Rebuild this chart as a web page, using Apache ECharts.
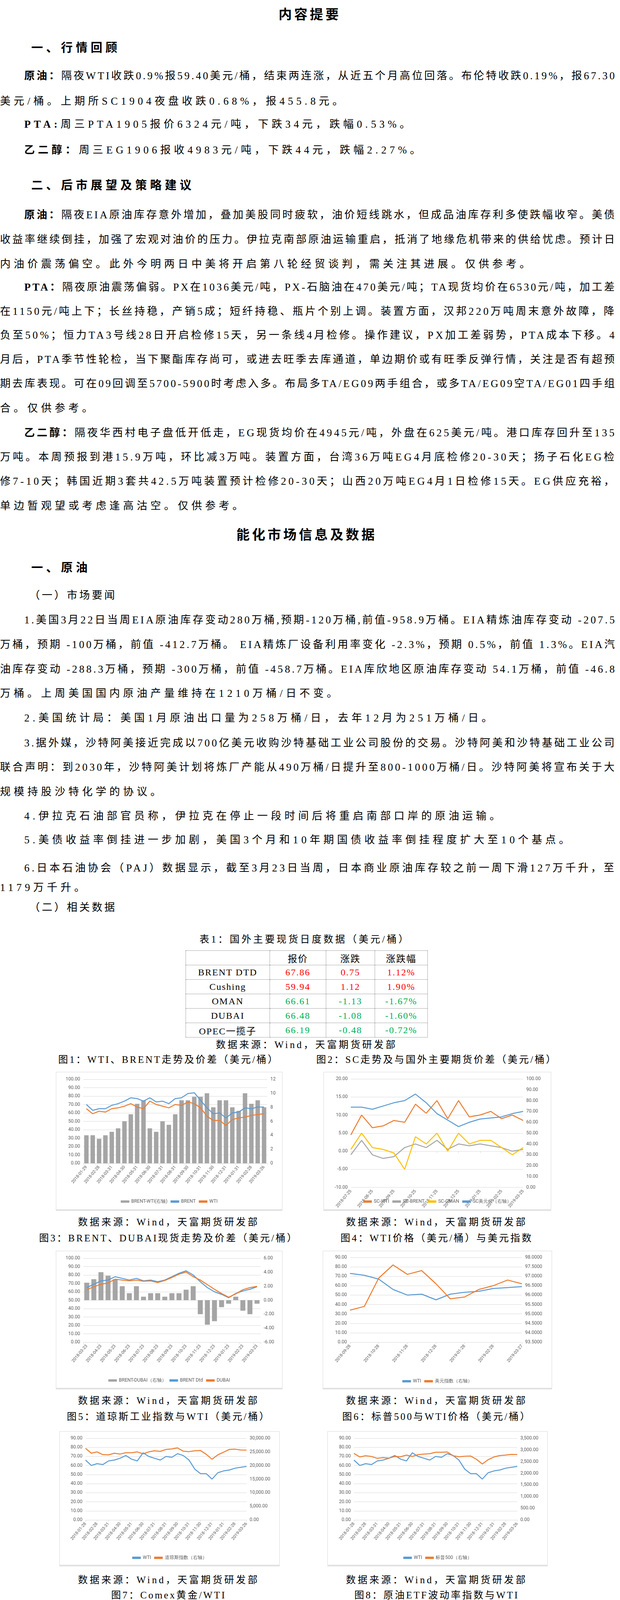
<!DOCTYPE html>
<html><head><meta charset="utf-8">
<script src="https://cdn.jsdelivr.net/npm/echarts@6/dist/echarts.min.js"></script>
<style>
body{margin:0;background:#fff;}
#page{position:relative;width:1587px;height:7857px;overflow:hidden;font-family:"Liberation Serif","Noto Sans CJK SC",serif;color:#000;}
.ln{position:absolute;white-space:nowrap;font-size:27px;line-height:36px;}
.h1{font-size:34px;font-weight:bold;}
.h2{font-size:30px;font-weight:bold;}
.cap{font-size:25px;}
.box{position:absolute;border:1px solid #D9D9D9;box-shadow:0 3px 0 #E3E3E3;background:#fff;}
table{border-collapse:collapse;position:absolute;font-size:24px;}
td{text-align:center;padding:0;white-space:nowrap;letter-spacing:2px;}
.t1 td{border:1px dotted #555;height:36px;}
.t2 td{border:1px solid #000;height:31px;}
</style></head><body><div id="page"></div>
<script>
// ---------- DATA ----------
var table1Head=['','报价','涨跌','涨跌幅'];
var table1Names=['BRENT DTD','Cushing','OMAN','DUBAI','OPEC一揽子'];
var table1Price=['67.86','59.94','66.61','66.48','66.19'];
var table1Chg=['0.75','1.12','-1.13','-1.08','-0.48'];
var table1Pct=['1.12%','1.90%','-1.67%','-1.60%','-0.72%'];
var table2Head=['品种','2019/3/26','2019/3/27','涨跌幅'];
var table2Names=['石脑油（美元）','PX（美元）','内盘PTA','内盘MEG','半光切片','华东水瓶片','POY150D/48F','1.4D直纺涤短'];
var table2D1=['566','1036','6600','5035','7750','8550','9015','8820'];
var table2D2=['566','1036','6530','4945','7750','8550','9015','8790'];
var table2Chg=['0','0','-70','-90','0','0','0','-30'];

var dates1=['2018-01-29','2018-02-13','2018-02-28','2018-03-15','2018-03-31','2018-04-15','2018-04-30','2018-05-15','2018-05-31','2018-06-15','2018-06-30','2018-07-15','2018-07-31','2018-08-15','2018-08-31','2018-09-15','2018-09-30','2018-10-15','2018-10-31','2018-11-15','2018-11-30','2018-12-15','2018-12-31','2019-01-15','2019-01-31','2019-02-15','2019-02-28','2019-03-14','2019-03-26'];
var brent1=[70,63,65,65,69,71,74,78,77,74,78,73,74,71,77,78,83,84,75,66,59,60,54,60,61,66,65,67,67];
var wti1=[65,59,62,61,65,66,68,71,67,65,74,70,68,66,70,69,73,71,66,56,51,51,45,52,54,55,57,58,59];
var spread1=[4,4,3.5,4,4.5,5,6,7,8.5,9,5,4.5,6,5.5,7,9,9,9.5,9.5,10,8,9,9,8,7.5,10,8.5,9,8];

var dates2=['2018-07-25','2018-08-10','2018-08-25','2018-09-10','2018-09-25','2018-10-10','2018-10-25','2018-11-10','2018-11-25','2018-12-10','2018-12-25','2019-01-10','2019-01-25','2019-02-10','2019-02-25','2019-03-10','2019-03-25'];
var scWti=[4.5,10,6.5,7,8.5,8,13,10.5,14,9,14,9.5,10,11,9,10,8.5];
var scBrent=[-1,3,-1,-2,-1.5,1,2,1,3,0.5,2,1.5,2,1.5,1,0,0.5];
var scOman=[0.5,5,1,0.5,-0.5,-5,4,2,5,0,5,2,3,3,1,-1,1];
var scUsd=[74,74,72,75,78,80,86,78,68,62,56,60,63,64,65,68,70];

var dates3=['2018-03-23','2018-04-08','2018-04-23','2018-05-08','2018-05-23','2018-06-08','2018-06-23','2018-07-08','2018-07-23','2018-08-08','2018-08-23','2018-09-08','2018-09-23','2018-10-08','2018-10-23','2018-11-08','2018-11-23','2018-12-08','2018-12-23','2019-01-08','2019-01-23','2019-02-08','2019-02-23','2019-03-08','2019-03-23'];
var brentDtd=[65,69,73,74,78,76,74,76,73,74,72,74,78,82,85,80,72,65,60,57,53,58,61,63,66];
var dubai=[62.5,66,69,70.5,75,74,73,74,72.5,73,71,73.5,77,81,83.5,78,74,68.5,63,58,53.5,57.5,62.5,65,66.5];
var spread3=[2.5,3,4,3.5,3,2,1,2,0.5,1,1,0.5,1,1,1.5,2,-2,-3.5,-3,-1,-0.5,0.5,-1.5,-2,-0.5];

var dates4=['2018-09-28','2018-10-14','2018-10-28','2018-11-14','2018-11-28','2018-12-14','2018-12-28','2019-01-14','2019-01-28','2019-02-14','2019-02-28','2019-03-14','2019-03-27'];
var wti4=[73,71,67,56,50,51,45,51,53,54,57,58,59];
var usdIdx=[95.2,95.4,96.9,97.6,97.1,97.3,96.6,95.8,95.9,96.3,96.5,96.8,96.6];

var dates5=['2018-01-28','2018-02-13','2018-02-28','2018-03-15','2018-03-31','2018-04-15','2018-04-30','2018-05-15','2018-05-31','2018-06-15','2018-06-30','2018-07-15','2018-07-31','2018-08-15','2018-08-31','2018-09-15','2018-09-30','2018-10-15','2018-10-31','2018-11-15','2018-11-30','2018-12-15','2018-12-31','2019-01-15','2019-01-31','2019-02-15','2019-02-28','2019-03-14','2019-03-26'];
var wti5=[66,60,62,61,65,66,68,71,67,65,74,70,68,66,70,69,73,71,66,56,51,51,45,52,54,55,57,58,59];
var dowJones=[26300,24500,25000,24000,23900,24500,24200,24700,24700,25000,24300,25000,25400,25200,25900,26100,26450,25250,25100,25400,25500,24100,22300,23900,24900,25900,26000,25700,25650];
var sp500=[2850,2700,2750,2720,2640,2670,2650,2720,2710,2780,2720,2800,2820,2840,2900,2900,2915,2750,2710,2730,2740,2600,2400,2580,2700,2760,2780,2810,2800];
var oilEtf=[22,30,26,25,26,27,28,26,28,27,29,27,29,25,27,26,26,28,35,65,45,60,52,38,35,31,30,27,26];

var dates7=['2018-03-27','2018-04-12','2018-04-27','2018-05-12','2018-05-27','2018-06-12','2018-06-27','2018-07-12','2018-07-27','2018-08-12','2018-08-27','2018-09-12','2018-09-27','2018-10-12','2018-10-27','2018-11-12','2018-11-27','2018-12-12','2018-12-27','2019-01-12','2019-01-27','2019-02-12','2019-02-27','2019-03-12','2019-03-27'];
var goldWti=[20.3,21.3,19.2,18.8,18,20,19.8,17.5,17.5,18,18,17.8,17.2,17.5,16.2,18,20.5,23.5,29.5,25.5,24.5,24.8,23.5,22.5,22.5];

// ---------- TEXT ----------
var page=document.getElementById('page');
function L(y,x,html,full,cls,ls){
  var d=document.createElement('div');d.className='ln '+(cls||'');d.innerHTML=html;
  d.style.left=x+'px';d.style.top=(y-18)+'px';page.appendChild(d);
  var n=d.textContent.length;
  if(full){var w=d.offsetWidth;var l=(1578-x-w)/n;d.style.letterSpacing=l+'px';}
  else d.style.letterSpacing=(ls==null?8:ls)+'px';
  return d;
}
function C(y,cx,html,cls,ls){
  var d=document.createElement('div');d.className='ln '+(cls||'');d.innerHTML=html;
  d.style.top=(y-18)+'px';d.style.letterSpacing=(ls==null?5:ls)+'px';page.appendChild(d);var w=d.offsetWidth;
  d.style.left=(cx-w/2)+'px';
}

C(38,793,'内容提要','h1',6);
L(122,80,'一、行情回顾',false,'h2',8);
L(194,62,'<b>原油：</b>隔夜WTI收跌0.9%报59.40美元/桶，结束两连涨，从近五个月高位回落。布伦特收跌0.19%，报67.30',true);
L(259,0,'美元/桶。上期所SC1904夜盘收跌0.68%，报455.8元。');
L(318,62,'<b>PTA:</b>周三PTA1905报价6324元/吨，下跌34元，跌幅0.53%。');
L(384,62,'<b>乙二醇：</b>周三EG1906报收4983元/吨，下跌44元，跌幅2.27%。');
L(474,80,'二、后市展望及策略建议',false,'h2',8);
var T=[
[550,62,'<b>原油：</b>隔夜EIA原油库存意外增加，叠加美股同时疲软，油价短线跳水，但成品油库存利多使跌幅收窄。美债',1],
[613,0,'收益率继续倒挂，加强了宏观对油价的压力。伊拉克南部原油运输重启，抵消了地缘危机带来的供给忧虑。预计日',1],
[676,0,'内油价震荡偏空。此外今明两日中美将开启第八轮经贸谈判，需关注其进展。仅供参考。',0],
[735,62,'<b>PTA：</b>隔夜原油震荡偏弱。PX在1036美元/吨，PX-石脑油在470美元/吨；TA现货均价在6530元/吨，加工差',1],
[797,0,'在1150元/吨上下；长丝持稳，产销5成；短纤持稳、瓶片个别上调。装置方面，汉邦220万吨周末意外故障，降',1],
[858,0,'负至50%；恒力TA3号线28日开启检修15天，另一条线4月检修。操作建议，PX加工差弱势，PTA成本下移。4',1],
[920,0,'月后，PTA季节性轮检，当下聚酯库存尚可，或进去旺季去库通道，单边期价或有旺季反弹行情，关注是否有超预',1],
[982,0,'期去库表现。可在09回调至5700-5900时考虑入多。布局多TA/EG09两手组合，或多TA/EG09空TA/EG01四手组',1],
[1045,0,'合。仅供参考。',0],
[1108,62,'<b>乙二醇：</b>隔夜华西村电子盘低开低走，EG现货均价在4945元/吨，外盘在625美元/吨。港口库存回升至135',1],
[1170,0,'万吨。本周预报到港15.9万吨，环比减3万吨。装置方面，台湾36万吨EG4月底检修20-30天；扬子石化EG检',1],
[1232,0,'修7-10天；韩国近期3套共42.5万吨装置预计检修20-30天；山西20万吨EG4月1日检修15天。EG供应充裕，',1],
[1295,0,'单边暂观望或考虑逢高沽空。仅供参考。',0],
[1587,62,'1.美国3月22日当周EIA原油库存变动280万桶,预期-120万桶,前值-958.9万桶。EIA精炼油库存变动 -207.5',1],
[1650,0,'万桶，预期 -100万桶，前值 -412.7万桶。 EIA精炼厂设备利用率变化 -2.3%，预期 0.5%，前值 1.3%。EIA汽',1],
[1713,0,'油库存变动 -288.3万桶，预期 -300万桶，前值 -458.7万桶。EIA库欣地区原油库存变动 54.1万桶，前值 -46.8',1],
[1775,0,'万桶。上周美国国内原油产量维持在1210万桶/日不变。',0],
[1838,62,'2.美国统计局：美国1月原油出口量为258万桶/日，去年12月为251万桶/日。',0],
[1902,62,'3.据外媒，沙特阿美接近完成以700亿美元收购沙特基础工业公司股份的交易。沙特阿美和沙特基础工业公司',1],
[1964,0,'联合声明：到2030年，沙特阿美计划将炼厂产能从490万桶/日提升至800-1000万桶/日。沙特阿美将宣布关于大',1],
[2027,0,'规模持股沙特化学的协议。',0],
[2089,62,'4.伊拉克石油部官员称，伊拉克在停止一段时间后将重启南部口岸的原油运输。',0],
[2150,62,'5.美债收益率倒挂进一步加剧，美国3个月和10年期国债收益率倒挂程度扩大至10个基点。',0],
[2222,62,'6.日本石油协会（PAJ）数据显示，截至3月23日当周，日本商业原油库存较之前一周下滑127万千升，至',1],
[2272,0,'1179万千升。',0],
[4688,62,'1.TI 5月原油期货收跌0.53美元，跌幅0.88%，报59.41美元/桶。布伦特5月原油期货收跌0.14美元，跌',1],
[4751,0,'幅0.21%，报67.83美元/桶。EIA公布的数据显示，截至3月22日当周美国商业原油库存增加280万桶至4.423',1],
[4812,0,'亿桶，汽油库存下降288.3万桶，精炼油库存下降207.5万桶。。',0],
[4875,58,'2.早盘PX波动不大，实货5/6月递盘贴水5，纸货4月递盘1027美元/吨，7月998-1015美元/吨CFR附近商',1],
[4937,0,'谈。下午PX市场波动不大，实货5/6月贴水略有扩大至6-8美元附近；纸货7月递盘1000美元/吨，9月递976',1],
[5000,0,'美元/吨。尾盘PX变化不大，5月递盘1037-1039美元/吨；6月递盘1033美元/吨。其他方面，中石化4月PX预',1],
[5063,0,'收款价出台在8100元/吨。4月ACP，报盘1140-1150美元/吨CFR。',0],
[5110,62,'3.现货市场',0],
[5168,62,'周三，PTA总体市场气氛总体一般，现货市场因临近月底税票问题，成交量明显萎缩。4月货源成交相对一般，',1],
[5230,0,'供应商和贸易商有出货，聚酯工厂和贸易商采购为主。3月货源成交在1905升水170-190附近，4月货源在1905',1],
[5290,0,'升水60-70附近成交，成交区间在6400-6425元/吨附近。',0],
[5397,62,'1.聚酯切片工厂报价继续维持，半光主流报7750-7850元/吨现款，略低在7700元/吨附近；有光主流报',0],
[5458,0,'7850-7900元/吨现款，实盘商谈。',0],
[5522,62,'2.江浙涤丝价格多稳，聚酯成本端回落，涤丝产品效益扩大，工厂库存压力不显，短期丝价个别调整。江浙涤',1],
[5584,0,'丝产销整体偏弱，至下午3点附近平均估算在5成左右。',0],
[5647,62,'3.瓶片方面，工厂报价多稳。近期瓶片工厂发货量增加，现货趋紧。日内聚酯瓶片工厂成交一般，工厂多挺价',1],
[5711,0,'为主。主流瓶片工厂商谈重心至8550-8600元/吨出厂附近。出口市场，瓶片工厂出口报价维持坚挺。华东主流商',1],
[5774,0,'谈区间至1120-1130美元/吨FOB上海港不等。',0],
[5838,62,'4.短纤方面，直纺涤短价格维稳，产销一般，聚酯原料近期走势胶着，库存水平良好。半光1.4D江苏地区商',1],
[5898,0,'谈多在8700-8850出厂或短送。',0],
[6040,62,'EG价格重心大幅下行，场内贸易商出货意向偏浓，午后乙二醇市场价格大幅下行，下周现货贴水幅度继续扩',1],
[6102,0,'大，尾盘少量聚酯工厂参与现货询盘。美金方面，MEG外盘重心大幅下行，场内报盘较为集中，供应商出货积极，',1],
[6164,0,'市场买盘意向薄弱，个别融资商参与询盘为主，尾盘商谈下探至610-615美元/吨附近。',0],
[6750,55,'本报告的信息均来源于公开资料，我公司对这些信息的准确性和完整性不作任何保证，也不保证所包含的信息和建议不会发生',1],
[6811,0,'任何变更。文中的观点、结论和建议仅供参考。天富期货可发出其它与本报告所载资料不一致及有不同结论的报告。本报告及该等',1],
[6872,0,'报告反映编写分析员的不同设想、见解及分析方法。报告所载资料、意见及推测仅反映分析员于发出此报告日期当日的独立判断。',1],
[6935,0,'客户不应视本报告为作出投资决策的惟一因素。本报告中所指的投资及服务可能不适合个别客户，不构成客户私人咨询建议。本公',1],
[6995,0,'司未确保本报告充分考虑到个别客户特殊的投资目标、财务状况或需要。本公司建议客户应考虑本报告的任何意见或建议是否符合',1],
[7057,0,'其特定状况，以及（若有必要）咨询独立投资顾问。在任何情况下，本报告中的信息或所表述的意见并不构成对任何人的投资建议。',1],
[7120,0,'在任何情况下，本公司不对任何人因使用本报告中的任何内容所引致的损失负任何责任。本报告的观点可能与资管团队的观点不同',1],
[7183,0,'或对立，对于基于本报告全面或部分做出的交易、结果，不论盈利或亏损，天富期货研究发展部不承担责任。本报告版权仅为天富',1],
[7245,0,'期货有限公司所有，未经书面许可，任何机构和个人不得以任何形式翻版、复制和发布。如引用、刊发，需注明出处天富期货研究',1],
[7308,0,'发展部，且不得对本报告进行有悖原意的引用、删节和修改。',0]];
T.forEach(function(t){L(t[0],t[1],t[2],!!t[3],'',t[0]>6700?0:8);});
C(1370,785,'能化市场信息及数据','h1',6);
L(1453,80,'一、原油',false,'h2',8);
L(1524,75,'（一）市场要闻',false,'',5);
L(2323,75,'（二）相关数据',false,'',5);
L(4573,80,'二、PTA',false,'h2',8);
L(4635,75,'（一）上游市场',false,'',5);
L(5342,75,'（二）下游市场',false,'',5);
L(5966,80,'三、乙二醇',false,'h2',8);
L(6238,80,'四、能化品种现货市场报价',false,'h2',8);
C(6697,816,'免责声明','h2',2);
C(2405,780,'表1：国外主要现货日度数据（美元/桶）','cap',5);
C(2675,785,'数据来源：Wind，天富期货研发部','cap',5);
var src='数据来源：Wind，天富期货研发部';
[[2713,'图1：WTI、BRENT走势及价差（美元/桶）','图2：SC走势及与国外主要期货价差（美元/桶）'],
 [3170,'图3：BRENT、DUBAI现货走势及价差（美元/桶）','图4：WTI价格（美元/桶）与美元指数'],
 [3627,'图5：道琼斯工业指数与WTI（美元/桶）','图6：标普500与WTI价格（美元/桶）'],
 [4084,'图7：Comex黄金/WTI','图8：原油ETF波动率指数与WTI']].forEach(function(r){C(r[0],432,r[1],'cap',4);C(r[0],1118,r[2],'cap',4);});
[3129,3586,4045,4510].forEach(function(y){C(y,432,src,'cap',5);C(y,1118,src,'cap',5);});

// ---------- TABLES ----------
var t1=document.createElement('table');t1.className='t1';t1.style.left='475px';t1.style.top='2433px';t1.style.width='620px';
var h='<tr>'+table1Head.map(function(c,i){return '<td style="width:'+[215,145,125,135][i]+'px">'+c+'</td>';}).join('')+'</tr>';
table1Names.forEach(function(n,i){var col=i<2?'#FF0000':'#00B050';
 h+='<tr><td>'+n+'</td><td style="color:'+col+'">'+table1Price[i]+'</td><td style="color:'+col+'">'+table1Chg[i]+'</td><td style="color:'+col+'">'+table1Pct[i]+'</td></tr>';});
t1.innerHTML=h;page.appendChild(t1);
var t2=document.createElement('table');t2.className='t2';t2.style.left='262px';t2.style.top='6287px';t2.style.width='1045px';
h='<tr><td colspan="4">现货市场</td></tr><tr>'+table2Head.map(function(c,i){return '<td style="width:'+[312,289,260,184][i]+'px">'+c+'</td>';}).join('')+'</tr>';
table2Names.forEach(function(n,i){h+='<tr><td>'+n+'</td><td>'+table2D1[i]+'</td><td>'+table2D2[i]+'</td><td>'+table2Chg[i]+'</td></tr>';});
t2.innerHTML=h;page.appendChild(t2);

// ---------- CHARTS ----------
var BLUE='#5B9BD5',ORANGE='#ED7D31',GREY='#A5A5A5',YEL='#FFC000';
var AX={color:'#595959',fontSize:12,fontFamily:'Liberation Sans Narrow,Roboto,sans-serif'};
function box(x,y,w,h){var d=document.createElement('div');d.className='box';d.style.left=x+'px';d.style.top=y+'px';d.style.width=w+'px';d.style.height=h+'px';page.appendChild(d);return echarts.init(d,null,{renderer:'canvas'});}
function yax(min,max,step,fmt,pos){return {type:'value',min:min,max:max,interval:step,position:pos||'left',
 axisLabel:Object.assign({formatter:fmt},AX),axisLine:{show:false},axisTick:{show:false},
 splitLine:{show:pos!=='right',lineStyle:{color:'#D9D9D9'}}};}
function xax(data,intervalFn,onZero){return {type:'category',data:data,boundaryGap:false,
 axisLine:{onZero:!!onZero,lineStyle:{color:'#D9D9D9'}},axisTick:{show:true,interval:intervalFn,lineStyle:{color:'#D9D9D9'}},
 axisLabel:Object.assign({rotate:50,interval:intervalFn,margin:8},AX,{fontSize:11})};}
function ln(name,data,color,yi){return {name:name,type:'line',data:data,yAxisIndex:yi||0,symbol:'none',lineStyle:{color:color,width:2.5},itemStyle:{color:color}};}
function bar(name,data,yi){return {name:name,type:'bar',data:data,yAxisIndex:yi||0,barWidth:'70%',itemStyle:{color:GREY}};}
function leg(top){return {top:top,left:'center',itemWidth:22,itemHeight:6,textStyle:AX,icon:'rect'};}
var f2=function(v){return v.toFixed(2);};
var f0=function(v){return String(v);};
var fc=function(v){return v.toLocaleString('en-US',{minimumFractionDigits:2,maximumFractionDigits:2});};
var odd=function(i){return i%2===0;};

box(143,2744,578,351).setOption({animation:false,grid:{left:69,right:38,top:18,bottom:118},legend:leg(320),
 xAxis:Object.assign(xax(dates1,odd),{boundaryGap:true}),
 yAxis:[yax(0,100,10,f2),yax(0,12,2,f0,'right')],
 series:[bar('BRENT-WTI(右轴)',spread1,1),ln('BRENT',brent1,BLUE),ln('WTI',wti1,ORANGE)]});

box(828,2744,581,351).setOption({animation:false,grid:{left:69,right:71,top:17,bottom:52},legend:leg(320),
 xAxis:xax(dates2,odd,true),
 yAxis:[yax(-10,20,5,f2),yax(0,100,10,f2,'right')],
 series:[ln('SC-WTI',scWti,ORANGE),ln('SC-BRENT',scBrent,GREY),ln('SC-OMAN',scOman,YEL),ln('SC美元价（右轴）',scUsd,BLUE,1)]});

box(143,3202,578,350).setOption({animation:false,grid:{left:69,right:55,top:18,bottom:117},legend:leg(320),
 xAxis:Object.assign(xax(dates3,odd),{boundaryGap:true}),
 yAxis:[yax(0,100,10,f2),yax(-6,6,2,f2,'right')],
 series:[bar('BRENT-DUBAI（右轴）',spread3,1),ln('BRENT Dtd',brentDtd,BLUE),ln('DUBAI',dubai,ORANGE)]});

box(826,3202,585,350).setOption({animation:false,grid:{left:69,right:76,top:16,bottom:117},legend:leg(322),
 xAxis:xax(dates4,odd),
 yAxis:[yax(0,90,10,f2),yax(93.5,98,0.5,function(v){return v.toFixed(4);},'right')],
 series:[ln('WTI',wti4,BLUE),ln('美元指数（右轴）',usdIdx,ORANGE,1)]});

box(152,3664,562,341).setOption({animation:false,grid:{left:66,right:84,top:17,bottom:115},legend:leg(312),
 xAxis:xax(dates5,odd),
 yAxis:[yax(0,90,10,f2),yax(0,30000,5000,fc,'right')],
 series:[ln('WTI',wti5,BLUE),ln('道琼斯指数（右轴）',dowJones,ORANGE,1)]});

box(838,3664,562,341).setOption({animation:false,grid:{left:67,right:77,top:17,bottom:115},legend:leg(312),
 xAxis:xax(dates5,odd),
 yAxis:[yax(0,90,10,f2),yax(0,3500,500,fc,'right')],
 series:[ln('WTI',wti5,BLUE),ln('标普500（右轴）',sp500,ORANGE,1)]});

box(150,4131,566,341).setOption({animation:false,grid:{left:67,right:27,top:16,bottom:80},
 xAxis:xax(dates7,odd),
 yAxis:[yax(0,35,5,f0)],
 series:[ln('Comex黄金/WTI',goldWti,BLUE)]});

box(810,4129,617,343).setOption({animation:false,grid:{left:67,right:59,top:17,bottom:115},legend:leg(315),
 xAxis:xax(dates5,odd),
 yAxis:[yax(0,90,10,f2),yax(0,70,10,f2,'right')],
 series:[ln('WTI',wti5,BLUE),ln('原油ETF（右轴）',oilEtf,ORANGE,1)]});
</script></body></html>
